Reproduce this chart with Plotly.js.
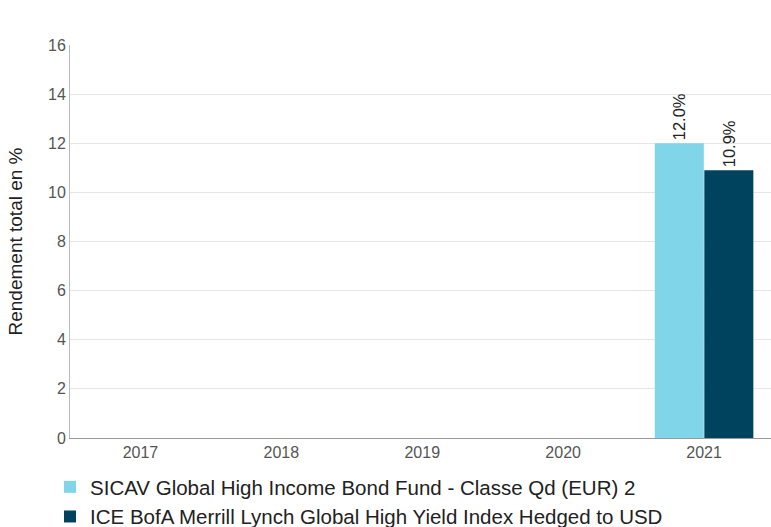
<!DOCTYPE html>
<html><head><meta charset="utf-8">
<script src="https://cdn.plot.ly/plotly-3.0.1.min.js"></script>
<style>html,body{margin:0;padding:0;background:#fff}#chart{width:771px;height:527px}</style>
</head><body><div id="chart"></div>
<script>
const years = ['2017','2018','2019','2020','2021'];
const fundName = 'SICAV Global High Income Bond Fund - Classe Qd (EUR) 2';
const indexName = 'ICE BofA Merrill Lynch Global High Yield Index Hedged to USD';
const fundValues = [null, null, null, null, 12.0];
const indexValues = [null, null, null, null, 10.9];
const yTicks = [0, 2, 4, 6, 8, 10, 12, 14, 16];

const fmt = v => v == null ? '' : v.toFixed(1) + '%';
const FONT = 'Liberation Sans, Arial, sans-serif';

const traces = [
  {type:'bar', name: fundName, x: years, y: fundValues, marker:{color:'#80d5e8'},
   text: fundValues.map(fmt), textposition:'outside', textangle:-90,
   textfont:{family:FONT, size:16.5, color:'#222'}, cliponaxis:false, hoverinfo:'y'},
  {type:'bar', name: indexName, x: years, y: indexValues, marker:{color:'#00435f'},
   text: indexValues.map(fmt), textposition:'outside', textangle:-90,
   textfont:{family:FONT, size:16.5, color:'#222'}, cliponaxis:false, hoverinfo:'y'}
];

const layout = {
  width:771, height:527,
  margin:{l:70, r:0, t:45, b:89, autoexpand:false},
  paper_bgcolor:'#fff', plot_bgcolor:'#fff',
  font:{family:FONT, color:'#555'},
  barmode:'group', bargap:0.297, bargroupgap:0.01,
  xaxis:{type:'category', range:[-0.5, 4.475], showline:true, linecolor:'#999', linewidth:1, ticks:'',
         tickfont:{size:16, color:'#555'}, showgrid:false},
  yaxis:{range:[0,16], tickvals:yTicks, showline:true, linecolor:'#bbb', linewidth:1, gridcolor:'#e6e6e6', zeroline:false,
         tickfont:{size:16, color:'#555'}, ticks:'',
         title:{text:'Rendement total en %', font:{size:19, color:'#222'}}},
  showlegend:true,
  legend:{orientation:'v', x:-0.0285, xanchor:'left', y:-0.0738, yanchor:'top',
          font:{size:20.5, color:'#222'}, tracegroupgap:0, itemwidth:30},
};

Plotly.newPlot('chart', traces, layout, {displayModeBar:false, staticPlot:true});
</script></body></html>
